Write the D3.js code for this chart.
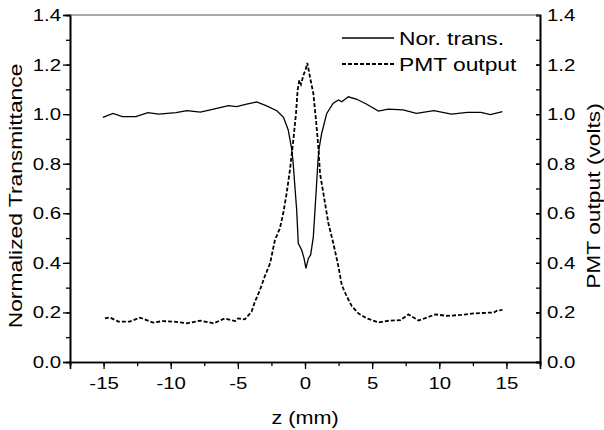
<!DOCTYPE html>
<html>
<head>
<meta charset="utf-8">
<script src="https://cdn.jsdelivr.net/npm/d3@7"></script>
<style>
  body { margin: 0; background: #fff; }
  svg { display: block; font-family: Arial, 'Liberation Sans', sans-serif; }
</style>
</head>
<body>
<div id="chart"></div>
<script>
'use strict';

// normalized transmittance (left axis)
const zTrans = [-15.05, -14.3, -13.6, -12.6, -11.7, -10.9, -9.6, -8.8, -7.8, -6.8,
  -5.7, -5.1, -4.35, -3.6, -2.86, -2.1, -1.6, -1.25, -1.0, -0.9,
  -0.62, -0.5, -0.25, -0.07, 0.07, 0.25, 0.42, 0.62, 0.82, 0.97,
  1.05, 1.24, 1.62, 2.1, 2.5, 2.74, 3.23, 3.86, 4.6, 5.47,
  6.2, 7.3, 8.3, 9.6, 10.9, 12.1, 13.1, 13.8, 14.7];
const transValues = [0.987, 1.003, 0.99, 0.99, 1.006, 1.0, 1.006, 1.014, 1.008, 1.02,
  1.034, 1.03, 1.04, 1.049, 1.033, 1.014, 0.987, 0.936, 0.862, 0.815,
  0.613, 0.479, 0.452, 0.418, 0.378, 0.418, 0.432, 0.505, 0.68, 0.815,
  0.862, 0.922, 1.003, 1.044, 1.057, 1.05, 1.07, 1.06, 1.04, 1.012,
  1.02, 1.017, 1.003, 1.014, 1.0, 1.007, 1.007, 0.998, 1.01];

// PMT output in volts (right axis)
const zPmt = [-14.9, -14.55, -13.9, -13.06, -12.3, -11.3, -10.6, -9.8, -8.8, -7.8,
  -6.8, -5.97, -5.2, -4.98, -4.48, -3.98, -3.73, -3.36, -3.0, -2.6,
  -2.24, -1.87, -1.62, -1.37, -1.12, -0.87, -0.67, -0.55, -0.42, -0.3,
  -0.1, 0.05, 0.17, 0.37, 0.62, 0.82, 0.99, 1.12, 1.37, 1.74,
  2.11, 2.49, 2.74, 3.1, 3.48, 3.98, 4.6, 5.47, 6.3, 7.1,
  7.7, 8.46, 9.7, 10.6, 11.6, 12.6, 13.6, 14.05, 14.3, 14.7];
const pmtValues = [0.176, 0.18, 0.163, 0.163, 0.179, 0.159, 0.165, 0.163, 0.156, 0.167,
  0.156, 0.176, 0.165, 0.176, 0.172, 0.203, 0.243, 0.29, 0.345, 0.398,
  0.492, 0.539, 0.6, 0.68, 0.775, 0.895, 1.003, 1.097, 1.137, 1.12,
  1.16, 1.18, 1.207, 1.15, 1.084, 0.976, 0.869, 0.76, 0.68, 0.56,
  0.479, 0.385, 0.31, 0.266, 0.226, 0.196, 0.176, 0.16, 0.167, 0.169,
  0.192, 0.167, 0.192, 0.186, 0.19, 0.196, 0.199, 0.199, 0.207, 0.21];

const xTicks = [-15, -10, -5, 0, 5, 10, 15];
const yTicks = [0.0, 0.2, 0.4, 0.6, 0.8, 1.0, 1.2, 1.4];
const seriesNames = ['Nor. trans.', 'PMT output'];

const width = 604;
const height = 430;
const margin = {top: 15, right: 64, bottom: 68, left: 70};
const stretch = 1.2; // the original font is wider than Arial
const dashes = '4,2';

const svg = d3.select('#chart')
  .append('svg')
  .attr('width', width)
  .attr('height', height);

let x = d3.scaleLinear()
  .domain([-17.5, 17.5])
  .range([margin.left, width - margin.right]);

let yLeft = d3.scaleLinear()
  .domain([0, 1.4])
  .range([height - margin.bottom, margin.top]);

let yRight = d3.scaleLinear()
  .domain([0, 1.4])
  .range([height - margin.bottom, margin.top]);

function styleAxis(g) {
  g.select('.domain').attr('stroke', '#000').attr('stroke-width', 1.6);
  g.selectAll('.tick line').attr('stroke', '#000').attr('stroke-width', 1.3);
  g.selectAll('.tick text')
    .attr('font-size', '17px')
    .attr('fill', '#000')
    .attr('transform', 'scale(' + stretch + ',1)')
    .attr('x', function() {
      return (+this.getAttribute('x') || 0) / stretch;
    });
}

let plain = function(d) { return String(d); };
let oneDecimal = d3.format('.1f');

// minor ticks first, then major ones
svg.append('g')
  .attr('transform', 'translate(0,' + (height - margin.bottom) + ')')
  .call(d3.axisBottom(x).tickValues(d3.range(-17.5, 17.6, 2.5)).tickSize(4).tickFormat(''))
  .call(styleAxis);
svg.append('g')
  .attr('transform', 'translate(0,' + (height - margin.bottom) + ')')
  .call(d3.axisBottom(x).tickValues(xTicks).tickSize(7).tickPadding(8).tickFormat(plain))
  .call(styleAxis);

svg.append('g')
  .attr('transform', 'translate(' + margin.left + ',0)')
  .call(d3.axisLeft(yLeft).tickValues(d3.range(0, 1.41, 0.1)).tickSize(4).tickFormat(''))
  .call(styleAxis);
svg.append('g')
  .attr('transform', 'translate(' + margin.left + ',0)')
  .call(d3.axisLeft(yLeft).tickValues(yTicks).tickSize(7).tickPadding(2).tickFormat(oneDecimal))
  .call(styleAxis);

svg.append('g')
  .attr('transform', 'translate(' + (width - margin.right) + ',0)')
  .call(d3.axisRight(yRight).tickValues(d3.range(0, 1.41, 0.1)).tickSize(-4).tickFormat(''))
  .call(styleAxis);
svg.append('g')
  .attr('transform', 'translate(' + (width - margin.right) + ',0)')
  .call(d3.axisRight(yRight).tickValues(yTicks).tickSize(-4).tickPadding(7).tickFormat(oneDecimal))
  .call(styleAxis);

// top frame line
svg.append('line')
  .attr('x1', margin.left)
  .attr('x2', width - margin.right)
  .attr('y1', margin.top)
  .attr('y2', margin.top)
  .attr('stroke', '#555')
  .attr('stroke-width', 1.2);

let transLine = d3.line()
  .x(function(d, i) { return x(zTrans[i]); })
  .y(function(d) { return yLeft(d); });

let pmtLine = d3.line()
  .x(function(d, i) { return x(zPmt[i]); })
  .y(function(d) { return yRight(d); });

svg.append('path')
  .datum(pmtValues)
  .attr('d', pmtLine)
  .attr('fill', 'none')
  .attr('stroke', '#000')
  .attr('stroke-width', 1.8)
  .attr('stroke-dasharray', dashes);

svg.append('path')
  .datum(transValues)
  .attr('d', transLine)
  .attr('fill', 'none')
  .attr('stroke', '#000')
  .attr('stroke-width', 1.3);

// legend
let legend = svg.append('g').attr('transform', 'translate(342,38)');
seriesNames.forEach(function(name, i) {
  let row = legend.append('g').attr('transform', 'translate(0,' + i * 26 + ')');
  row.append('line')
    .attr('x1', 0)
    .attr('x2', 52)
    .attr('stroke', '#000')
    .attr('stroke-width', i === 0 ? 1.3 : 1.8)
    .attr('stroke-dasharray', i === 0 ? null : dashes);
  row.append('text')
    .attr('transform', 'translate(57,7) scale(' + stretch + ',1)')
    .attr('font-size', '19px')
    .text(name);
});

// axis titles
svg.append('text')
  .attr('transform', 'translate(305,424) scale(' + stretch + ',1)')
  .attr('text-anchor', 'middle')
  .attr('font-size', '18px')
  .text('z (mm)');

svg.append('text')
  .attr('transform', 'translate(22,196) rotate(-90) scale(' + stretch + ',1)')
  .attr('text-anchor', 'middle')
  .attr('font-size', '19px')
  .text('Normalized Transmittance');

svg.append('text')
  .attr('transform', 'translate(600,196) rotate(-90) scale(' + stretch + ',1)')
  .attr('text-anchor', 'middle')
  .attr('font-size', '19px')
  .text('PMT output (volts)');
</script>
</body>
</html>
